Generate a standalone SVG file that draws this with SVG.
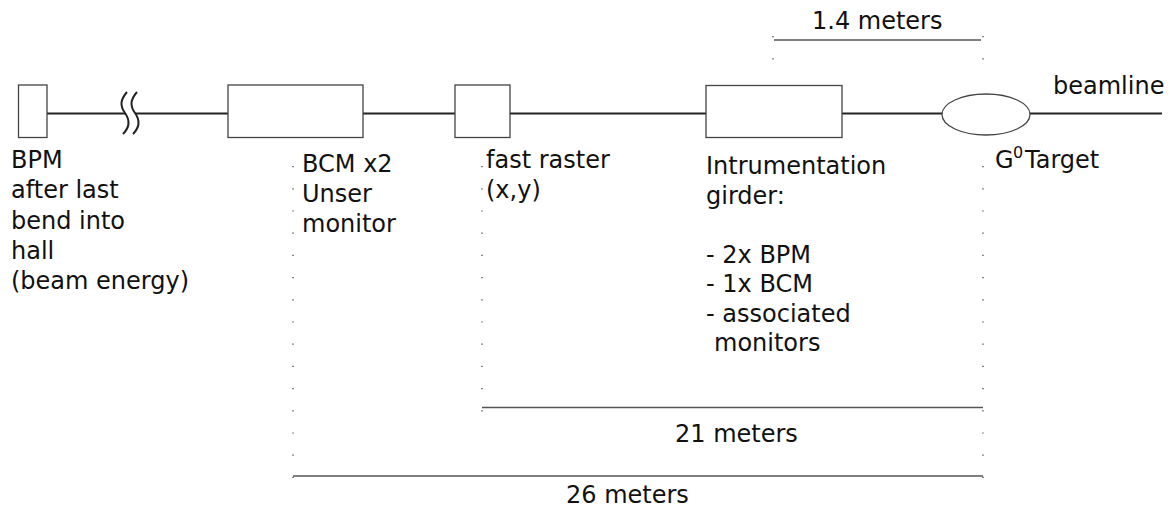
<svg xmlns="http://www.w3.org/2000/svg" width="1170" height="508" viewBox="0 0 1170 508">
<style>
text{font-family:"DejaVu Sans",sans-serif;font-size:24px;fill:#111}
.box{fill:#fff;stroke:#444;stroke-width:1.3}
.beam{stroke:#222;stroke-width:2;fill:none}
.dim{stroke:#555;stroke-width:1.4;fill:none}
.dots{stroke:#333;stroke-width:1.2;fill:none;stroke-dasharray:1.2 21}
</style>
<g id="connectors">
<line class="beam" x1="47" y1="113.5" x2="125" y2="113.5"/>
<line class="beam" x1="135" y1="113.5" x2="228" y2="113.5"/>
<path class="beam" d="M127,92 C120,100 120,106 125,113 C130,120 130,127 123,134" stroke-width="1.6"/>
<path class="beam" d="M137,92 C130,100 130,106 135,113 C140,120 140,127 133,134" stroke-width="1.6"/>
<line class="beam" x1="363" y1="113.5" x2="455" y2="113.5"/>
<line class="beam" x1="510" y1="113.5" x2="706" y2="113.5"/>
<line class="beam" x1="842" y1="113.5" x2="942" y2="113.5"/>
<line class="beam" x1="1030" y1="113.5" x2="1162" y2="113.5"/>
</g>
<g id="dimensions">
<line class="dim" x1="774" y1="40" x2="981" y2="40"/>
<line class="dim" x1="482" y1="407.5" x2="983" y2="407.5"/>
<line class="dim" x1="293" y1="476" x2="983" y2="476"/>
<line class="dots" x1="773" y1="36" x2="773" y2="60"/>
<line class="dots" x1="983" y1="36" x2="983" y2="60"/>
<line class="dots" x1="983" y1="166" x2="983" y2="482"/>
<line class="dots" x1="293" y1="166" x2="293" y2="482"/>
<line class="dots" x1="482" y1="166" x2="482" y2="416"/>
<text x="812" y="29">1.4 meters</text>
<text x="675" y="442">21 meters</text>
<text x="566" y="503">26 meters</text>
</g>
<g id="bpm">
<rect class="box" x="18.5" y="85" width="28.5" height="52.5"/>
<text x="11" y="167.5">BPM</text>
<text x="11" y="198">after last</text>
<text x="11" y="228.5">bend into</text>
<text x="11" y="258.5">hall</text>
<text x="11" y="288.5">(beam energy)</text>
</g>
<g id="bcm">
<rect class="box" x="228" y="85" width="135" height="52.5"/>
<text x="302" y="172">BCM x2</text>
<text x="302" y="202">Unser</text>
<text x="302" y="232">monitor</text>
</g>
<g id="raster">
<rect class="box" x="455" y="85" width="55" height="52.5"/>
<text x="486" y="167.5">fast raster</text>
<text x="486" y="198">(x,y)</text>
</g>
<g id="girder">
<rect class="box" x="706" y="85.5" width="136" height="52"/>
<text x="706" y="173.5">Intrumentation</text>
<text x="706" y="203.5">girder:</text>
<text x="706" y="262.5">- 2x BPM</text>
<text x="706" y="292">- 1x BCM</text>
<text x="706" y="321.5">- associated</text>
<text x="714" y="351">monitors</text>
</g>
<g id="target">
<ellipse class="box" cx="986" cy="114.5" rx="44" ry="20.5"/>
<text x="995" y="167.5">G</text>
<text x="1013" y="158" style="font-size:16px">0</text>
<text x="1025" y="167.5">Target</text>
</g>
<g id="beamline">
<text x="1053" y="93.5">beamline</text>
</g>
</svg>
